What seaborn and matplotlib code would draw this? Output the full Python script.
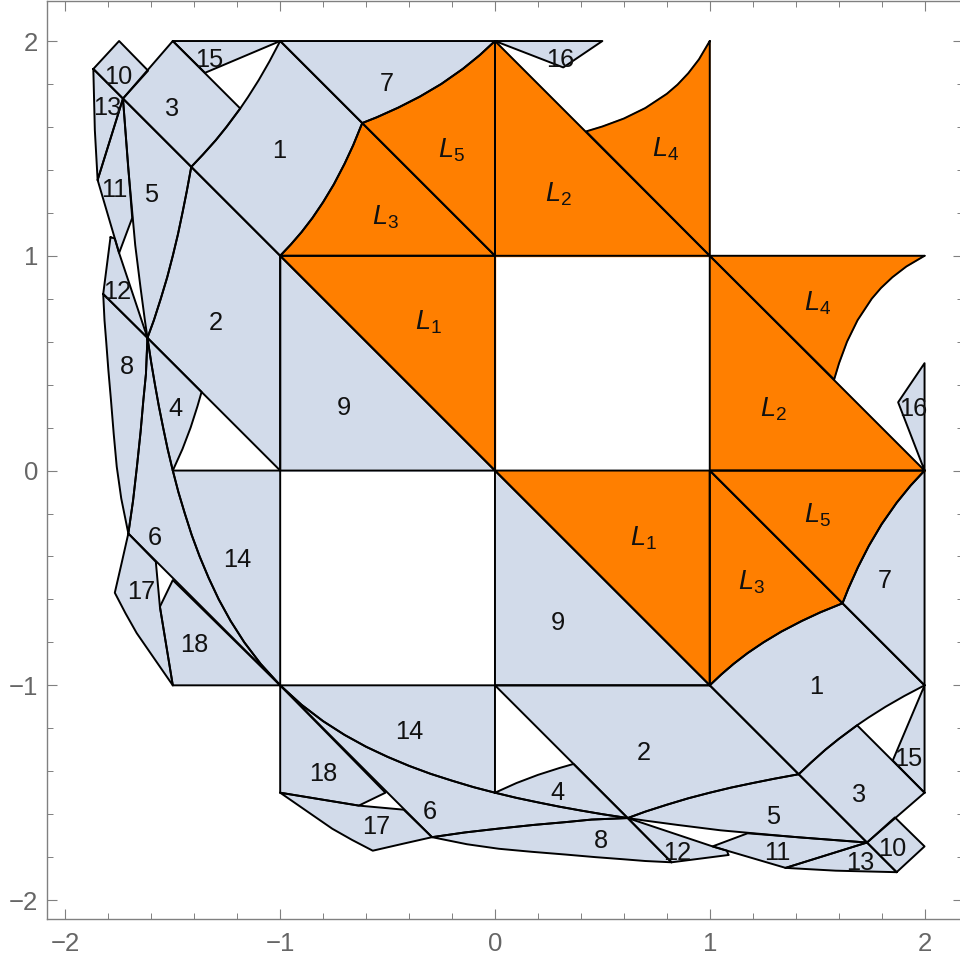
import matplotlib
matplotlib.use('Agg')
import matplotlib.pyplot as plt
from matplotlib.ticker import MultipleLocator
import pandas as pd
import seaborn as sns

# shared curved edges, upper left copy
arc_a = [(-1, 2), (-1.05, 1.905), (-1.1, 1.818), (-1.15, 1.739), (-1.186, 1.686), (-1.25, 1.6), (-1.3, 1.538),
         (-1.36, 1.471), (-1.414, 1.414)]
arc_b = [(-1.414, 1.414), (-1.435, 1.3), (-1.455, 1.2), (-1.476, 1.1), (-1.5, 1), (-1.526, 0.9), (-1.556, 0.8),
         (-1.588, 0.7), (-1.618, 0.618)]
arc_c = [(-1.618, 0.618), (-1.6, 0.5), (-1.583, 0.4), (-1.565, 0.3), (-1.545, 0.2), (-1.524, 0.1), (-1.5, 0)]
arc_d = [(-1.5, 0), (-1.474, -0.1), (-1.444, -0.2), (-1.412, -0.3), (-1.375, -0.4), (-1.333, -0.5), (-1.286, -0.6),
         (-1.231, -0.7), (-1.167, -0.8), (-1.091, -0.9), (-1, -1)]
arc_e = [(-1, 1), (-0.95, 1.053), (-0.9, 1.111), (-0.85, 1.176), (-0.8, 1.25), (-0.75, 1.333), (-0.7, 1.429),
         (-0.66, 1.515), (-0.618, 1.618)]
arc_f = [(-0.618, 1.618), (-0.55, 1.645), (-0.45, 1.69), (-0.35, 1.741), (-0.25, 1.8), (-0.15, 1.87), (-0.07, 1.935), (0, 2)]
arc_g = [(1, 2), (0.95, 1.915), (0.9, 1.85), (0.85, 1.797), (0.8, 1.754), (0.7, 1.688), (0.6, 1.639), (0.5, 1.602), (0.424, 1.579)]
arc_h = [(-1.5, 0), (-1.455, 0.1), (-1.417, 0.2), (-1.385, 0.3), (-1.366, 0.366)]
arc_i = [(-1.618, 0.618), (-1.625, 0.45), (-1.637, 0.328), (-1.65, 0.18), (-1.667, 0.018), (-1.685, -0.14), (-1.707, -0.293)]
arc_j = [(-1.824, 0.822), (-1.818, 0.7), (-1.81, 0.6), (-1.80, 0.468), (-1.788, 0.33), (-1.775, 0.17), (-1.761, 0.018),
         (-1.74, -0.13), (-1.707, -0.293)]

# shared curved edges, lower right copy
arc_a2 = [(2, -1), (1.905, -1.05), (1.818, -1.1), (1.739, -1.15), (1.686, -1.186), (1.6, -1.25), (1.538, -1.3),
          (1.471, -1.36), (1.414, -1.414)]
arc_b2 = [(1.414, -1.414), (1.3, -1.435), (1.2, -1.455), (1.1, -1.476), (1, -1.5), (0.9, -1.526), (0.8, -1.556),
          (0.7, -1.588), (0.618, -1.618)]
arc_c2 = [(0.618, -1.618), (0.5, -1.6), (0.4, -1.583), (0.3, -1.565), (0.2, -1.545), (0.1, -1.524), (0, -1.5)]
arc_d2 = [(0, -1.5), (-0.1, -1.474), (-0.2, -1.444), (-0.3, -1.412), (-0.4, -1.375), (-0.5, -1.333), (-0.6, -1.286),
          (-0.7, -1.231), (-0.8, -1.167), (-0.9, -1.091), (-1, -1)]
arc_e2 = [(1, -1), (1.053, -0.95), (1.111, -0.9), (1.176, -0.85), (1.25, -0.8), (1.333, -0.75), (1.429, -0.7),
          (1.515, -0.66), (1.618, -0.618)]
arc_f2 = [(1.618, -0.618), (1.645, -0.55), (1.69, -0.45), (1.741, -0.35), (1.8, -0.25), (1.87, -0.15), (1.935, -0.07), (2, 0)]
arc_g2 = [(2, 1), (1.915, 0.95), (1.85, 0.9), (1.797, 0.85), (1.754, 0.8), (1.688, 0.7), (1.639, 0.6), (1.602, 0.5), (1.579, 0.424)]
arc_h2 = [(0, -1.5), (0.1, -1.455), (0.2, -1.417), (0.3, -1.385), (0.366, -1.366)]
arc_i2 = [(0.618, -1.618), (0.45, -1.625), (0.328, -1.637), (0.18, -1.65), (0.018, -1.667), (-0.14, -1.685), (-0.293, -1.707)]
arc_j2 = [(0.822, -1.824), (0.7, -1.818), (0.6, -1.81), (0.468, -1.80), (0.33, -1.788), (0.17, -1.775), (0.018, -1.761),
          (-0.13, -1.74), (-0.293, -1.707)]

blue_upper = [
    arc_a + [(-1, 1)] + arc_e,
    arc_b + [(-1, 0), (-1, 1)],
    [(-1.5, 2), (-1.732, 1.732), (-1.414, 1.414), (-1.36, 1.471), (-1.3, 1.538), (-1.25, 1.6), (-1.186, 1.686)],
    [(-1.618, 0.618), (-1.366, 0.366)] + arc_h[::-1][1:] + arc_c[::-1][1:],
    [(-1.732, 1.732), (-1.708, 1.415), (-1.675, 1.05), (-1.65, 0.85), (-1.63, 0.70)] + arc_b[::-1],
    arc_c + arc_d[1:] + arc_i[::-1][:-1],
    [(-1, 2), (0, 2)] + arc_f[::-1][1:],
    arc_j + arc_i[::-1],
    [(-1, 1), (-1, 0), (0, 0)],
    [(-1.87, 1.87), (-1.75, 2), (-1.615, 1.862), (-1.732, 1.732)],
    [(-1.85, 1.353), (-1.732, 1.732), (-1.689, 1.176), (-1.75, 1.013)],
    [(-1.79, 1.087), (-1.824, 0.822), (-1.618, 0.618), (-1.75, 1.013), (-1.77, 1.08)],
    [(-1.87, 1.87), (-1.863, 1.586), (-1.85, 1.353), (-1.732, 1.732)],
    [(-1.5, 0), (-1, 0)] + arc_d[::-1][:-1],
    [(-1.5, 2), (-1, 2), (-1.35, 1.852)],
    [(0, 2), (0.5, 2), (0.318, 1.877)],
    [(-1.707, -0.293), (-1.738, -0.43), (-1.77, -0.569), (-1.72, -0.665), (-1.668, -0.757), (-1.59, -0.87), (-1.5, -1),
     (-1.56, -0.634), (-1.579, -0.425)],
    [(-1.5, -1), (-1, -1), (-1.5, -0.51), (-1.56, -0.634)],
]

blue_lower = [
    arc_a2 + [(1, -1)] + arc_e2,
    arc_b2 + [(0, -1), (1, -1)],
    [(2, -1.5), (1.732, -1.732), (1.414, -1.414), (1.471, -1.36), (1.538, -1.3), (1.6, -1.25), (1.686, -1.186)],
    [(0.618, -1.618), (0.366, -1.366)] + arc_h2[::-1][1:] + arc_c2[::-1][1:],
    [(1.732, -1.732), (1.415, -1.708), (1.05, -1.675), (0.85, -1.65), (0.70, -1.63)] + arc_b2[::-1],
    arc_c2 + arc_d2[1:] + arc_i2[::-1][:-1],
    [(2, -1), (2, 0)] + arc_f2[::-1][1:],
    arc_j2 + arc_i2[::-1],
    [(1, -1), (0, -1), (0, 0)],
    [(1.87, -1.87), (2, -1.75), (1.862, -1.615), (1.732, -1.732)],
    [(1.353, -1.85), (1.732, -1.732), (1.176, -1.689), (1.013, -1.75)],
    [(1.087, -1.79), (0.822, -1.824), (0.618, -1.618), (1.013, -1.75), (1.08, -1.77)],
    [(1.87, -1.87), (1.586, -1.863), (1.353, -1.85), (1.732, -1.732)],
    [(0, -1.5), (0, -1)] + arc_d2[::-1][:-1],
    [(2, -1.5), (2, -1), (1.852, -1.35)],
    [(2, 0), (2, 0.5), (1.877, 0.318)],
    [(-0.293, -1.707), (-0.43, -1.738), (-0.569, -1.77), (-0.665, -1.72), (-0.757, -1.668), (-0.87, -1.59), (-1, -1.5),
     (-0.634, -1.56), (-0.425, -1.579)],
    [(-1, -1.5), (-1, -1), (-0.51, -1.5), (-0.634, -1.56)],
]

orange_regions = [
    [(-1, 1), (0, 1), (0, 0)],
    [(0, 2), (0, 1), (1, 1)],
    arc_e + [(0, 1)],
    arc_g + [(1, 1)],
    arc_f + [(0, 1)],
    [(0, 0), (1, 0), (1, -1)],
    [(2, 0), (1, 0), (1, 1)],
    arc_e2 + [(1, 0)],
    arc_g2 + [(1, 1)],
    arc_f2 + [(1, 0)],
]

number_labels = ['1', '2', '3', '4', '5', '6', '7', '8', '9', '10', '11', '12', '13', '14', '15', '16', '17', '18']
number_upper = [(-1.006, 1.497), (-1.299, 0.696), (-1.504, 1.693), (-1.490, 0.296), (-1.602, 1.292), (-1.583, -0.305),
                (-0.503, 1.809), (-1.714, 0.491), (-0.703, 0.300), (-1.756, 1.842), (-1.774, 1.316), (-1.760, 0.841),
                (-1.807, 1.698), (-1.201, -0.407), (-1.332, 1.921), (0.303, 1.921), (-1.649, -0.557), (-1.402, -0.803)]
number_lower = [(1.495, -0.999), (0.694, -1.306), (1.695, -1.502), (0.293, -1.493), (1.295, -1.604), (-0.303, -1.581),
                (1.816, -0.505), (0.494, -1.716), (0.293, -0.701), (1.849, -1.753), (1.313, -1.772), (0.848, -1.772),
                (1.700, -1.819), (-0.400, -1.208), (1.923, -1.334), (1.947, 0.296), (-0.554, -1.651), (-0.801, -1.404)]

l_labels = ['$L_1$', '$L_2$', '$L_3$', '$L_4$', '$L_5$']
l_upper = [(-0.312, 0.692), (0.293, 1.288), (-0.508, 1.181), (0.796, 1.497), (-0.205, 1.493)]
l_lower = [(0.689, -0.310), (1.295, 0.291), (1.192, -0.515), (1.500, 0.780), (1.500, -0.207)]

sns.set_style('ticks')
plt.rcParams['font.family'] = ['Liberation Sans', 'DejaVu Sans']
plt.rcParams['mathtext.fontset'] = 'custom'
plt.rcParams['mathtext.rm'] = 'Liberation Sans'
plt.rcParams['mathtext.it'] = 'Liberation Sans:italic'

fig = plt.figure(figsize=(9.6, 9.63), dpi=100)
ax = fig.add_axes([46.5 / 960, 44 / 963, (963 - 46.5) / 960, (919 - 1.5) / 963])

blue_regions = blue_upper + blue_lower
for reg in blue_regions:
    xs, ys = zip(*reg)
    ax.fill(xs, ys, facecolor='#d2dbea', edgecolor='#d2dbea', lw=0.4, zorder=1)
for reg in orange_regions:
    xs, ys = zip(*reg)
    ax.fill(xs, ys, facecolor='#ff7f00', edgecolor='#ff7f00', lw=1.0, zorder=2)

# outlines as one long table, one unit per region
rows = []
for i, reg in enumerate(blue_regions + orange_regions):
    for px, py in reg + reg[:1]:
        rows.append((i, px, py))
outlines = pd.DataFrame(rows, columns=['region', 'x', 'y'])
sns.lineplot(data=outlines, x='x', y='y', units='region', estimator=None, sort=False,
             color='black', lw=1.4, ax=ax, zorder=3, legend=False)

for lab, xy in zip(number_labels * 2, number_upper + number_lower):
    ax.annotate(lab, xy, xytext=(0, -1.2), textcoords='offset points', fontsize=18.3, color='#111111',
                ha='center', va='center', zorder=4)
for lab, xy in zip(l_labels * 2, l_upper + l_lower):
    ax.annotate(lab, xy, xytext=(0, -0.5), textcoords='offset points', fontsize=19.5, color='#111111',
                ha='center', va='center', zorder=4)

ax.set_xlim(-2.088, 2.179)
ax.set_ylim(-2.088, 2.184)
ax.set_xlabel('')
ax.set_ylabel('')
ax.xaxis.set_major_locator(MultipleLocator(1))
ax.yaxis.set_major_locator(MultipleLocator(1))
ax.xaxis.set_minor_locator(MultipleLocator(0.2))
ax.yaxis.set_minor_locator(MultipleLocator(0.2))
ax.tick_params(which='major', direction='in', length=7.2, width=0.8, color='#808080',
               labelcolor='#666666', labelsize=18.5, top=True, right=True)
ax.tick_params(which='minor', direction='in', length=4.3, width=0.7, color='#808080', top=True, right=True)
ax.tick_params(axis='x', which='major', pad=9)
ax.tick_params(axis='y', which='major', pad=6)
for spine in ax.spines.values():
    spine.set_color('#808080')
    spine.set_linewidth(1.0)

fig.savefig('out.png', dpi=100)
